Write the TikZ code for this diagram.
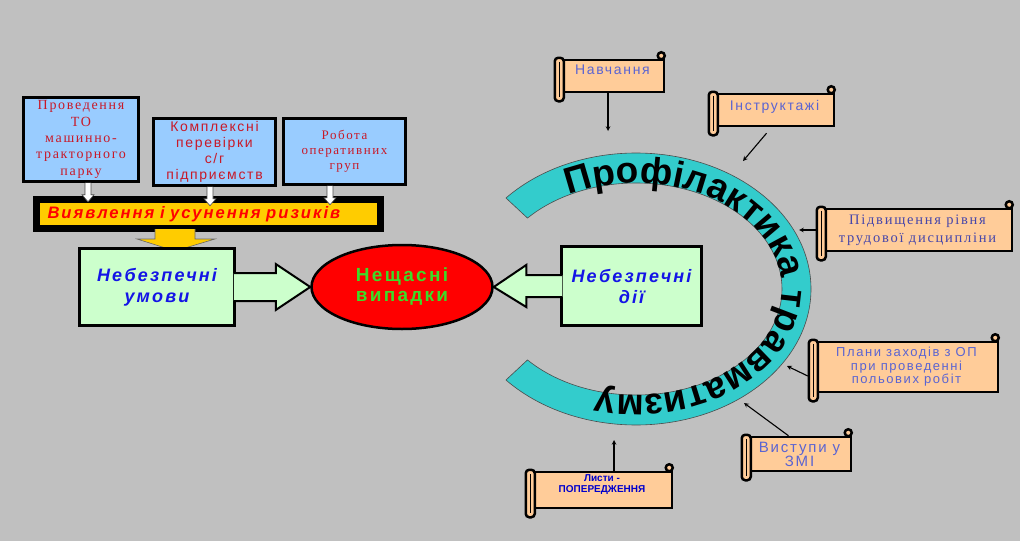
\documentclass[tikz,border=0pt]{standalone}
\usepackage{fontspec}
\setmainfont{Liberation Sans}
\newfontfamily\widesans[LetterSpace=12]{Liberation Sans}
\newfontfamily\wideserif[LetterSpace=12]{Liberation Serif}
\usepackage{tikz}
\usetikzlibrary{shapes.geometric,decorations.text,calc}
\definecolor{bgray}{RGB}{192,192,192}
\definecolor{boxblue}{RGB}{153,204,255}
\definecolor{boxgreen}{RGB}{204,255,204}
\definecolor{baryellow}{RGB}{255,204,0}
\definecolor{arccyan}{RGB}{51,204,204}
\definecolor{scrollpeach}{RGB}{255,204,153}
\definecolor{textred}{RGB}{200,25,40}
\definecolor{textblue}{RGB}{20,20,230}
\definecolor{textgreen}{RGB}{60,220,40}
\definecolor{scrolltext}{RGB}{90,100,210}
\definecolor{scrollnavy}{RGB}{70,70,170}
\tikzset{
	topbox/.style={draw,line width=2.5pt,fill=boxblue,text=textred,align=center,inner sep=0pt},
	dangerbox/.style={draw,line width=2.5pt,fill=boxgreen,text=textblue,align=center,inner sep=0pt,font=\widesans\bfseries\itshape\fontsize{18}{21}\selectfont},
	scrollbox/.style={draw,line width=2.5pt,fill=scrollpeach,text=scrolltext,align=center,inner sep=0pt,font=\widesans\fontsize{14}{14}\selectfont},
	blockarrow/.style={draw,line width=2pt,fill=boxgreen,line join=miter},
	thinarrow/.style={->,line width=1.1pt},
}
\begin{document}
\begin{tikzpicture}[x=1pt,y=-1pt,>=stealth]
	\useasboundingbox (0,0) rectangle (1020,541);
	\fill[bgray] (0,0) rectangle (1020,541);
	% left part
	\node[topbox,minimum width=115pt,minimum height=84pt,font=\wideserif\fontsize{14}{16.3}\selectfont] (pto) at (81,139.5) {Проведення\\ТО\\машинно-\\тракторного\\парку};
	\node[topbox,minimum width=122pt,minimum height=67pt,font=\widesans\fontsize{14}{16}\selectfont] (check) at (214.5,152) {Комплексні\\перевірки\\с/г\\підприємств};
	\node[topbox,minimum width=122pt,minimum height=66pt,font=\wideserif\fontsize{13}{15}\selectfont] (groups) at (344.5,151.5) {Робота\\оперативних\\груп};
	\node[draw,line width=7pt,fill=baryellow,minimum width=344pt,minimum height=29pt,inner sep=0pt,text width=322pt,align=left,text=red,font=\widesans\bfseries\itshape\fontsize{16.6}{16}\selectfont] (risk) at (208.5,214) {Виявлення і усунення ризиків};
	\foreach \b/\x in {pto/88,check/210,groups/330}
		\draw[fill=white,draw=black!70,line width=0.6pt] (\b.south -| \x,0) ++(-3,0) -- ++(0,12) -- ++(-3,0) -- ++(6,7) -- ++(6,-7) -- ++(-3,0) -- ++(0,-12);
	\draw[fill=baryellow,draw=black!60,line width=0.6pt] (155,229) -- (155,239) -- (137,239) -- (175,251) -- (215,239) -- (195,239) -- (195,229);
	\node[dangerbox,minimum width=155pt,minimum height=77pt] (cond) at (157,287) {Небезпечні\\умови};
	\node[dangerbox,minimum width=140pt,minimum height=79pt] (act) at (631.5,286) {Небезпечні\\дії};
	\node[ellipse,draw,line width=2.5pt,fill=red,minimum width=181pt,minimum height=84pt,inner sep=0pt,align=center,text=textgreen,font=\widesans\bfseries\fontsize{19}{20}\selectfont] (acc) at (402,287) {Нещасні\\випадки};
	\draw[blockarrow] ($(cond.east)+(-2,-14)$) -- ($(cond.east)+(40,-14)$) -- ($(cond.east)+(40,-23)$) -- (acc.west) -- ($(cond.east)+(40,23)$) -- ($(cond.east)+(40,14)$) -- ($(cond.east)+(-2,14)$);
	\draw[blockarrow] ($(act.west)+(2,-11)$) -- ($(act.west)+(-34,-11)$) -- ($(act.west)+(-34,-21)$) -- (acc.east) -- ($(act.west)+(-34,21)$) -- ($(act.west)+(-34,11)$) -- ($(act.west)+(2,11)$);
	% arc
	\coordinate (ctr) at (636,289);
	\draw[fill=arccyan,draw=black!70,line width=0.6pt] ($(ctr)+(138:175pt and 136pt)$) arc[start angle=138,end angle=-138,x radius=175pt,y radius=136pt] -- ($(ctr)+(-138:146pt and 106pt)$) arc[start angle=-138,end angle=138,x radius=146pt,y radius=106pt] -- cycle;
	\path[decorate,decoration={text along path,text align=center,text={|\bfseries\fontsize{37}{40}\selectfont|Профілактика травматизму}}] ($(ctr)+(126:146pt and 106pt)$) arc[start angle=126,end angle=-114,x radius=146pt,y radius=106pt];
	% scrolls
	\node[scrollbox,minimum width=103pt,minimum height=32pt,text depth=12pt] (nav) at (612.5,76) {Навчання};
	\node[scrollbox,minimum width=119pt,minimum height=32pt,text depth=9pt] (instr) at (774.5,110) {Інструктажі};
	\node[scrollbox,minimum width=189pt,minimum height=42pt,text=scrollnavy,font=\wideserif\fontsize{14.5}{18}\selectfont] (disc) at (917.5,230) {Підвищення рівня\\трудової дисципліни};
	\node[scrollbox,minimum width=183pt,minimum height=50pt,font=\widesans\fontsize{13}{13.5}\selectfont] (plan) at (906.5,367) {Плани заходів з ОП\\при проведенні\\польових робіт};
	\node[scrollbox,minimum width=103pt,minimum height=34pt,font=\widesans\fontsize{15}{14}\selectfont] (smi) at (799.5,454) {Виступи у\\ЗМІ};
	\node[scrollbox,minimum width=140pt,minimum height=36pt,text depth=13pt,text=blue!80!black,font=\bfseries\fontsize{10}{11}\selectfont] (lyst) at (602,490) {Листи -\\ПОПЕРЕДЖЕННЯ};
	\foreach \s in {nav,instr,disc,plan,smi,lyst}{
		\draw[line width=2.5pt,fill=scrollpeach,rounded corners=3.5pt] ([xshift=-5pt,yshift=1pt]\s.north west) rectangle ([xshift=4pt,yshift=-8pt]\s.south west);
		\draw[line width=0.8pt] ([xshift=-0.5pt,yshift=-3pt]\s.north west) -- ([xshift=-0.5pt,yshift=-4pt]\s.south west);
		\draw[line width=2.5pt,fill=scrollpeach] ([xshift=-4pt,yshift=3pt]\s.north east) circle[radius=3.5pt];
	}
	\coordinate (a1) at (608,131);
	\coordinate (a2) at (743,161);
	\coordinate (a3) at (799,230);
	\coordinate (a4) at (787,366);
	\coordinate (a5) at (744,403);
	\coordinate (a6) at (614,440);
	\draw[thinarrow] (nav.south -| a1) -- (a1);
	\draw[thinarrow] ([xshift=-8pt,yshift=-6pt]instr.south) -- (a2);
	\draw[thinarrow] ([xshift=-5pt]disc.west) -- (a3);
	\draw[thinarrow] ([xshift=-6pt,yshift=-9pt]plan.west) -- (a4);
	\draw[thinarrow] ([xshift=-11pt]smi.north) -- (a5);
	\draw[thinarrow] (lyst.north -| a6) -- (a6);
\end{tikzpicture}
\end{document}
